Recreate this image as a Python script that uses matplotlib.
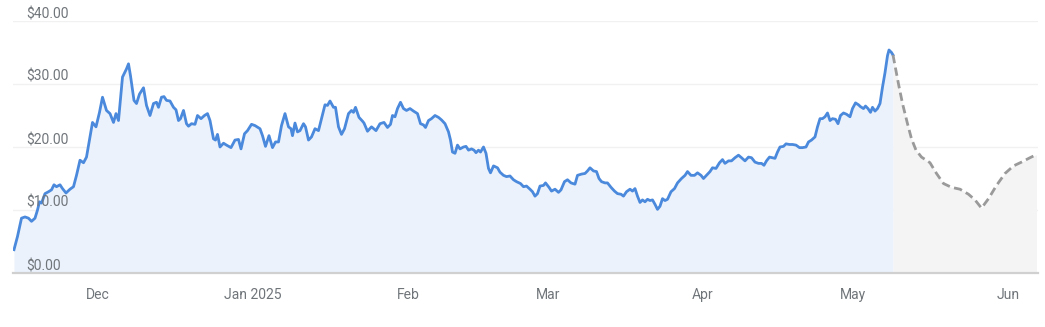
import matplotlib
matplotlib.use("Agg")
import matplotlib.pyplot as plt
import pandas as pd
import numpy as np

# ---------------- data ----------------
start_date = "2024-11-14"

# historical prices (days since start_date, price in $)
hist_days = [0.2, 0.9, 1.7, 2.4, 3.1, 3.7, 4.4, 4.9, 5.3, 5.7, 6.4, 7.1, 7.7, 8.2, 8.7, 9.4, 9.9,
             10.6, 11.4, 12.1, 12.7, 13.4, 14.1, 14.7, 15.4, 15.9, 16.6, 17.3, 17.9, 18.7, 19.4,
             20.1, 20.6, 21.1, 21.9, 22.7, 23.1, 23.5, 24.2, 24.7, 25.3, 26.1, 26.7, 27.4, 28.1,
             28.7, 29.1, 29.7, 30.2, 30.7, 31.4, 32.1, 32.6, 33.1, 33.5, 34.1, 34.7,
             35.1, 35.7, 36.4, 36.9, 37.6, 38.3, 38.9, 39.4, 40.1, 40.5, 40.9, 41.4, 42.1, 42.7,
             43.6, 44.4, 45.1, 45.6, 46.3, 46.9, 47.7, 48.4, 49.4, 49.9, 50.5, 51.2, 51.9, 52.5,
             53.1, 53.7, 54.4, 55.1, 55.6, 55.9, 56.4, 56.9, 57.4, 58.1, 58.5, 59.1, 59.7, 60.4,
             61.1, 61.7, 62.4, 62.9, 63.4, 64.1, 64.5, 65.1, 65.7, 66.3, 67.1, 67.7, 68.1, 68.5,
             69.2, 69.9,
             70.2, 70.9, 71.7, 72.6, 73.4, 74.2, 74.9, 75.5, 75.9, 76.4, 76.9, 77.5, 78.1, 78.7,
             79.4, 80.1, 80.9, 81.5, 82.1, 82.5, 83.1, 83.7, 84.4, 85.1, 85.7, 86.4, 87.1, 87.5,
             87.9, 88.4, 88.9, 89.4, 90.1, 90.6, 91.1, 91.7, 92.2, 92.6, 93.1, 93.5, 94.1, 94.6,
             95.1, 95.5, 96.1, 96.9, 97.4, 98.1, 98.7, 99.4, 100.1, 100.7, 101.5, 102.1, 102.7,
             103.4, 103.9, 104.4,
             104.9, 105.4, 106.1, 106.5, 107.2, 107.7, 108.4, 109.1, 109.6, 110.3, 110.9, 111.6,
             112.4, 112.9, 113.7, 114.4, 114.9, 115.4, 116.1, 116.7, 117.2, 117.7, 118.4, 118.9,
             119.6, 120.3, 120.9, 121.6, 122.1, 122.7, 123.4, 123.9, 124.4, 124.9, 125.4, 125.9,
             126.4, 126.9, 127.4, 127.9, 128.4, 128.9, 129.4, 129.9, 130.4, 130.9, 131.6, 132.3,
             132.9, 133.7, 134.4, 134.9, 135.6, 136.3, 136.9, 137.6, 138.1, 138.7, 139.4, 139.9,
             140.6, 141.3, 141.9, 142.4, 143.1, 143.7, 144.4, 145.1, 145.7, 146.4, 147.1, 147.7,
             148.4, 149.1, 149.7, 150.2, 150.7, 151.3, 151.9, 152.4, 152.9, 153.4, 154.1, 154.6,
             155.3, 155.9, 156.6, 157.3, 157.9, 158.6, 159.1, 159.7, 160.4, 160.9, 161.4, 161.9,
             162.4, 162.9, 163.4, 163.9, 164.5, 165.0, 165.5, 166.1, 166.7, 167.4, 167.9, 168.5,
             169.1, 169.5, 170.1, 170.5, 171.0, 171.5, 171.9, 172.4, 172.9, 173.4, 173.9, 174.4,
             174.9, 175.2, 175.7, 176.0]
hist_price = [3.7, 5.8, 8.7, 8.9, 8.7, 8.2, 8.7, 10.0, 11.3, 11.1, 12.6, 12.9, 13.2, 14.0, 13.7, 14.0, 13.4,
              12.7, 13.3, 13.7, 15.5, 17.9, 17.5, 18.4, 21.6, 23.9, 23.2, 25.5, 27.9, 25.8, 25.3,
              23.9, 25.3, 24.2, 31.1, 32.4, 33.2, 31.3, 27.4, 26.9, 28.4, 29.4, 26.6, 25.0, 26.9,
              27.1, 26.3, 27.9, 28.0, 27.4, 27.3, 26.3, 25.9, 24.2, 24.5, 25.8, 23.7,
              23.3, 23.7, 23.6, 25.0, 24.5, 25.0, 25.3, 24.2, 21.3, 21.1, 22.0, 20.0, 20.6, 20.3,
              19.9, 21.1, 21.2, 19.7, 22.1, 22.6, 23.6, 23.4, 22.9, 21.8, 20.1, 21.8, 19.9, 20.8,
              20.8, 23.4, 25.3, 23.2, 22.9, 21.8, 23.8, 22.4, 22.6, 23.7, 23.2, 21.1, 21.6, 22.9,
              22.6, 24.5, 26.7, 26.6, 27.3, 26.3, 26.3, 23.2, 22.0, 22.9, 25.3, 25.8, 25.5, 26.3,
              24.7, 24.1,
              23.8, 22.5, 23.2, 22.6, 23.7, 23.9, 23.1, 23.6, 25.0, 24.8, 26.1, 27.1, 26.1, 25.8,
              26.1, 25.7, 25.3, 23.7, 23.5, 23.1, 24.2, 24.5, 25.0, 24.7, 24.3, 23.7, 22.4, 21.1,
              19.2, 19.0, 20.3, 19.7, 20.0, 20.1, 19.5, 19.7, 19.5, 19.1, 19.5, 19.2, 20.0, 19.0,
              16.6, 15.9, 17.0, 16.7, 16.0, 15.5, 15.3, 15.4, 14.8, 14.5, 14.2, 13.7, 13.8,
              13.3, 12.9, 12.2,
              12.6, 13.8, 13.9, 14.3, 13.6, 13.0, 13.3, 12.8, 13.2, 14.5, 14.8, 14.3,
              14.1, 15.5, 15.7, 15.8, 16.2, 16.7, 16.2, 16.1, 15.0, 14.5, 14.3, 14.3,
              13.6, 13.0, 12.6, 12.5, 12.2, 12.9, 13.3, 13.0, 13.4, 12.2, 11.2, 11.6,
              11.3, 11.7, 11.5, 11.6, 10.9, 10.1, 10.6, 11.8, 11.5, 11.7, 12.9, 13.4,
              14.3, 15.0, 15.5, 16.1, 15.5, 15.5, 15.9, 15.5, 15.0, 15.5, 16.1, 16.7,
              16.6, 17.5, 18.0, 17.4, 17.8, 17.8, 18.3, 18.7, 18.3, 17.8, 18.4, 18.3,
              17.6, 17.4, 17.4, 17.1, 17.8, 18.4, 18.3, 18.2, 19.2, 20.0, 20.1, 20.5,
              20.4, 20.4, 20.3, 19.9, 19.9, 20.0, 20.8, 21.1, 21.6, 23.2, 24.5, 24.5,
              24.8, 25.4, 24.2, 24.5, 24.4, 23.7, 25.0, 25.4, 25.2, 24.8, 26.1, 27.0,
              26.7, 26.4, 26.1, 26.5, 26.1, 25.5, 26.3, 25.7, 26.1, 26.9, 29.5, 31.8,
              34.5, 35.4, 35.0, 34.6]

# forecast (days since start_date, price in $)
fc_days = [176.0, 177.1, 177.9, 178.9, 179.7, 180.6, 181.7, 183.4, 184.7, 186.1, 187.7,
           189.4, 191.1, 192.4, 193.7, 195.1, 196.7, 198.4, 200.1, 201.7, 203.4, 204.7]
fc_price = [34.6, 30.0, 26.9, 23.7, 21.3, 19.5, 18.4, 17.5, 15.8, 14.2, 13.6,
            13.3, 12.5, 11.6, 10.3, 11.8, 13.9, 15.8, 17.0, 17.6, 18.3, 18.8]

y_ticks = [0, 10, 20, 30, 40]
y_tick_labels = ["$0.00", "$10.00", "$20.00", "$30.00", "$40.00"]
x_tick_dates = ["2024-12-01", "2025-01-01", "2025-02-01", "2025-03-01",
                "2025-04-01", "2025-05-01", "2025-06-01"]
x_tick_labels = ["Dec", "Jan 2025", "Feb", "Mar", "Apr", "May", "Jun"]
x_end_days = 205

# ---------------- plot ----------------
plt.rcParams['font.family'] = ['Roboto', 'DejaVu Sans']

W, H = 1045, 327
fig = plt.figure(figsize=(W / 100, H / 100), dpi=100)
left, right, top, bottom = 13, 1038, 21, 273
ax = fig.add_axes([left / W, (H - bottom) / H, (right - left) / W, (bottom - top) / H])

t0 = pd.Timestamp(start_date)
hx = t0 + pd.to_timedelta(np.array(hist_days), unit="D")
fx = t0 + pd.to_timedelta(np.array(fc_days), unit="D")

line_col = "#4a89dc"
ax.fill_between(hx, hist_price, 0, color="#ebf2fc", lw=0, zorder=1)
ax.fill_between(fx, fc_price, 0, color="#f4f4f4", lw=0, zorder=1)
ax.plot(hx, hist_price, color=line_col, lw=2.0, zorder=3, solid_joinstyle="round")
ax.plot(fx, fc_price, color="#9a9a9a", lw=2.0, dashes=(3, 1.6), zorder=3)

ax.set_ylim(0, 40)
ax.set_xlim(t0, t0 + pd.Timedelta(days=x_end_days))

for v in y_ticks[1:]:
    ax.axhline(v, color="#f1f1f1", lw=1.0, zorder=0)

txt_col = "#70757a"
for v, lab in zip(y_ticks, y_tick_labels):
    ax.annotate(lab, xy=(0, v), xycoords=("axes fraction", "data"),
                xytext=(13, 3), textcoords="offset pixels",
                ha="left", va="baseline", fontsize=10, color=txt_col, zorder=4)

ax.set_yticks([])
ax.set_xticks(pd.to_datetime(x_tick_dates))
ax.set_xticklabels(x_tick_labels)
ax.tick_params(axis="x", length=0, pad=11, labelsize=10, labelcolor=txt_col)

for s in ["top", "left", "right"]:
    ax.spines[s].set_visible(False)
ax.spines["bottom"].set_color("#d0d0d0")
ax.spines["bottom"].set_linewidth(1.6)
ax.patch.set_alpha(0)

fig.savefig("out.png", dpi=100)
